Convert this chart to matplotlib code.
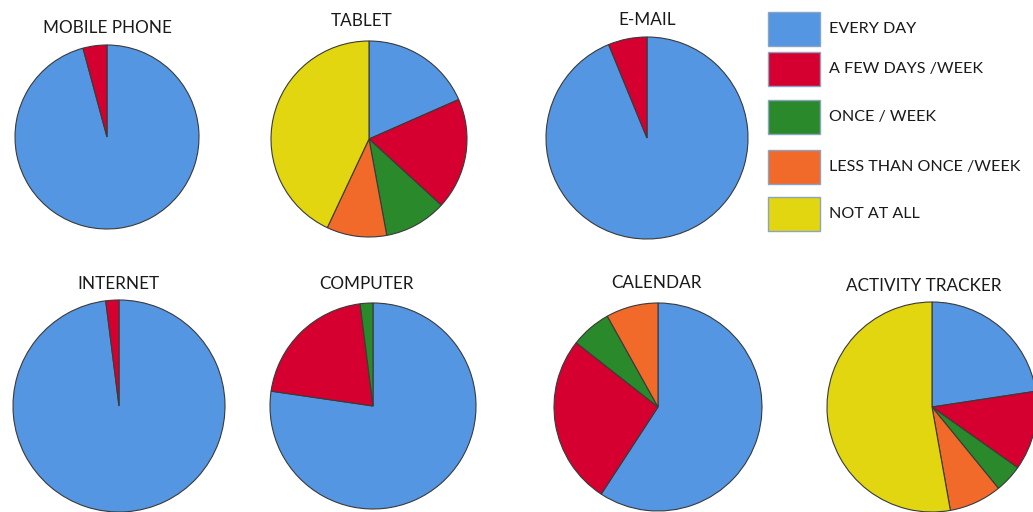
import matplotlib
matplotlib.use("Agg")
import matplotlib.pyplot as plt
from matplotlib.patches import Rectangle

W, H = 1033, 512

categories = ["EVERY DAY", "A FEW DAYS /WEEK", "ONCE / WEEK",
              "LESS THAN ONCE /WEEK", "NOT AT ALL"]
colors = ["#5496E2", "#D5002F", "#2A892A", "#F26A2A", "#E1D60F"]

# share of respondents (%) per category, in the order of `categories`
mobile_phone = [95.8, 4.2, 0, 0, 0]
tablet = [18.4, 18.4, 10.3, 9.9, 43.0]
email = [93.8, 6.2, 0, 0, 0]
internet = [98.0, 2.0, 0, 0, 0]
computer = [77.3, 20.7, 2.0, 0, 0]
calendar = [59.2, 26.4, 6.3, 8.1, 0]
activity_tracker = [22.6, 12.2, 4.3, 8.1, 52.8]

devices = ["MOBILE PHONE", "TABLET", "E-MAIL", "INTERNET",
           "COMPUTER", "CALENDAR", "ACTIVITY TRACKER"]
shares = [mobile_phone, tablet, email, internet, computer, calendar, activity_tracker]

# pixel layout: pie centre x, centre y, radius, title x, title y
layout = [
    (107, 137, 92, 107, 28),
    (369, 139, 98, 362, 21),
    (647, 138, 101, 647, 20),
    (119, 406, 106, 118, 284),
    (373, 406, 103, 366, 284),
    (658, 407, 104, 657, 283),
    (932, 407, 105, 924, 286),
]

plt.rcParams['font.family'] = ['Lato', 'DejaVu Sans']

fig = plt.figure(figsize=(W / 100, H / 100), dpi=100)
fig.patch.set_facecolor("white")

pad = 1.02
for name, vals, (cx, cy, r, tx, ty) in zip(devices, shares, layout):
    rr = r * pad
    ax = fig.add_axes([(cx - rr) / W, 1 - (cy + rr) / H, 2 * rr / W, 2 * rr / H])
    keep = [i for i, v in enumerate(vals) if v > 0]
    ax.pie([vals[i] for i in keep], colors=[colors[i] for i in keep],
           startangle=90, counterclock=False, radius=1,
           wedgeprops=dict(edgecolor="#3a3a3a", linewidth=0.8))
    ax.set_xlim(-pad, pad)
    ax.set_ylim(-pad, pad)
    ax.set_aspect("equal")
    ax.axis("off")
    fig.text(tx / W, 1 - ty / H, name, ha="center", va="center",
             fontsize=12.3, color="#1a1a1a")

# legend drawn in pixel coordinates
lax = fig.add_axes([0, 0, 1, 1], facecolor="none")
lax.set_xlim(0, W)
lax.set_ylim(H, 0)
lax.axis("off")
row_y = [29, 69, 117, 167, 214]
for label, col, y in zip(categories, colors, row_y):
    lax.add_patch(Rectangle((768, y - 17), 52, 34, facecolor=col,
                            edgecolor="#8aa4c4", linewidth=1.0))
    lax.text(829, y, label, ha="left", va="center", fontsize=11.6, color="#1a1a1a")

fig.savefig("out.png", dpi=100)
